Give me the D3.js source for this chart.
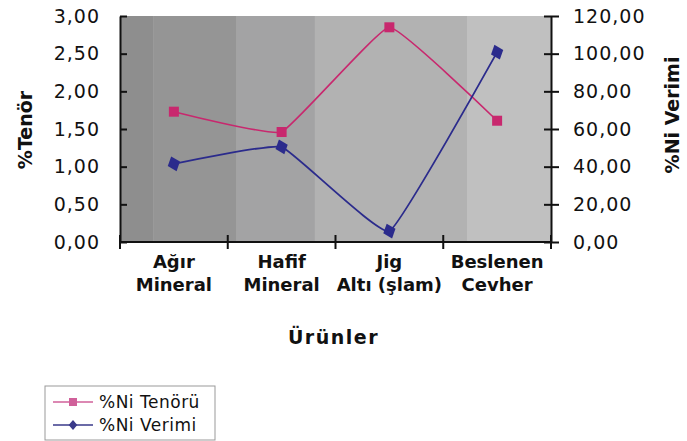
<!DOCTYPE html>
<html>
<head>
<meta charset="utf-8">
<script src="https://cdn.jsdelivr.net/npm/d3@7"></script>
<style>
body{margin:0;background:#fff;}
text{font-family:"DejaVu Sans",sans-serif;fill:#111;}
</style>
</head>
<body>
<script>
let categories = [["Ağır","Mineral"],["Hafif","Mineral"],["Jig","Altı (şlam)"],["Beslenen","Cevher"]];
let tenor = [1.73,1.46,2.85,1.61];
let verim = [41.5,50.5,5.8,100.8];
let leftTicks = [0,0.5,1,1.5,2,2.5,3];
let rightTicks = [0,20,40,60,80,100,120];

let width = 687, height = 441;
let margin = {left:120,right:136,top:16,bottom:199};
let w = width-margin.left-margin.right;
let h = height-margin.top-margin.bottom;

let svg = d3.select("body").append("svg").attr("width",width).attr("height",height);

let fmt = d => d.toFixed(2).replace(".",",");

let x = d3.scaleBand().domain(d3.range(categories.length)).range([0,w]).padding(0);
let yL = d3.scaleLinear().domain([0,3]).range([h,0]);
let yR = d3.scaleLinear().domain([0,120]).range([h,0]);

// banded grey background
let bands = [[0,0.077,"#8e8e8e"],[0.077,0.27,"#959595"],[0.27,0.452,"#a3a3a4"],[0.452,0.805,"#b2b2b2"],[0.805,1,"#c0c0c0"]];
let g = svg.append("g").attr("transform","translate("+margin.left+","+margin.top+")");
g.selectAll("rect.band").data(bands).enter().append("rect")
  .attr("x",d=>d[0]*w).attr("width",d=>(d[1]-d[0])*w+0.5)
  .attr("y",0).attr("height",h).attr("fill",d=>d[2]);

let cx = i => x(i)+x.bandwidth()/2;
let line = d3.line().curve(d3.curveCardinal.tension(0.7));

g.append("path").attr("d",line(tenor.map((d,i)=>[cx(i),yL(d)])))
  .attr("fill","none").attr("stroke","#c8286e").attr("stroke-width",1.6);
g.append("path").attr("d",line(verim.map((d,i)=>[cx(i),yR(d)])))
  .attr("fill","none").attr("stroke","#2b2b8c").attr("stroke-width",1.8);

g.selectAll("rect.sq").data(tenor).enter().append("rect")
  .attr("x",(d,i)=>cx(i)-5).attr("y",d=>yL(d)-5).attr("width",10).attr("height",10)
  .attr("fill","#c8286e");
g.selectAll("path.dm").data(verim).enter().append("path")
  .attr("d",d3.symbol().type(d3.symbolDiamond).size(80))
  .attr("transform",(d,i)=>"translate("+cx(i)+","+yR(d)+") rotate(-20) scale(1.35,0.95)")
  .attr("fill","#2b2b8c");

// axes
let axStyle = sel => {
  sel.select(".domain").attr("stroke","#111").attr("stroke-width",2);
  sel.selectAll(".tick line").attr("stroke","#111").attr("stroke-width",2);
  sel.selectAll(".tick text").style("font-size","19px").style("letter-spacing","1px").attr("fill","#111");
};
let left = g.append("g").call(d3.axisLeft(yL).tickValues(leftTicks).tickFormat(fmt).tickSizeInner(7).tickSizeOuter(0).tickPadding(13));
left.selectAll(".tick line").attr("x2",7);
axStyle(left);
let right = g.append("g").attr("transform","translate("+w+",0)")
  .call(d3.axisRight(yR).tickValues(rightTicks).tickFormat(fmt).tickSizeInner(8).tickSizeOuter(0).tickPadding(14));
right.selectAll(".tick line").attr("x1",-7);
axStyle(right);

let xTicks = d3.range(categories.length+1).map(i=>i*x.bandwidth());
let bottom = g.append("g").attr("transform","translate(0,"+h+")");
bottom.append("line").attr("x1",0).attr("x2",w).attr("stroke","#111").attr("stroke-width",2);
bottom.selectAll("line.t").data(xTicks).enter().append("line")
  .attr("x1",d=>d).attr("x2",d=>d).attr("y1",-7).attr("y2",7)
  .attr("stroke","#111").attr("stroke-width",2);

let lab = bottom.selectAll("text.cat").data(categories).enter().append("text")
  .attr("text-anchor","middle").style("font-size","18px").style("font-weight","bold");
lab.append("tspan").attr("x",(d,i)=>cx(i)).attr("y",26).text(d=>d[0]);
lab.append("tspan").attr("x",(d,i)=>cx(i)).attr("y",49).text(d=>d[1]);

// titles
svg.append("text").attr("x",margin.left+w/2-2).attr("y",344).attr("text-anchor","middle")
  .style("font-size","19px").style("font-weight","bold").style("letter-spacing","1.5px").text("Ürünler");
svg.append("text").attr("transform","translate(32,130) rotate(-90)").attr("text-anchor","middle")
  .style("font-size","19px").style("font-weight","bold").text("%Tenör");
svg.append("text").attr("transform","translate(679,115) rotate(-90)").attr("text-anchor","middle")
  .style("font-size","19px").style("font-weight","bold").text("%Ni Verimi");

// legend
let lg = svg.append("g").attr("transform","translate(45,386)");
lg.append("rect").attr("width",170).attr("height",54).attr("fill","#fff").attr("stroke","#999").attr("stroke-width",1);
let items = [["%Ni Tenörü","#d0609a","sq"],["%Ni Verimi","#3a3a8a","dm"]];
items.forEach((it,i)=>{
  let yy = 16+i*23;
  lg.append("line").attr("x1",8).attr("x2",48).attr("y1",yy).attr("y2",yy).attr("stroke",it[1]).attr("stroke-width",1.5);
  if(it[2]=="sq") lg.append("rect").attr("x",24).attr("y",yy-4).attr("width",8).attr("height",8).attr("fill",it[1]);
  else lg.append("path").attr("d",d3.symbol().type(d3.symbolDiamond).size(45)).attr("transform","translate(28,"+yy+") scale(1.2,0.8)").attr("fill",it[1]);
  lg.append("text").attr("x",54).attr("y",yy+6).style("font-size","17px").style("letter-spacing","0.5px").attr("fill","#222").text(it[0]);
});
</script>
</body>
</html>
